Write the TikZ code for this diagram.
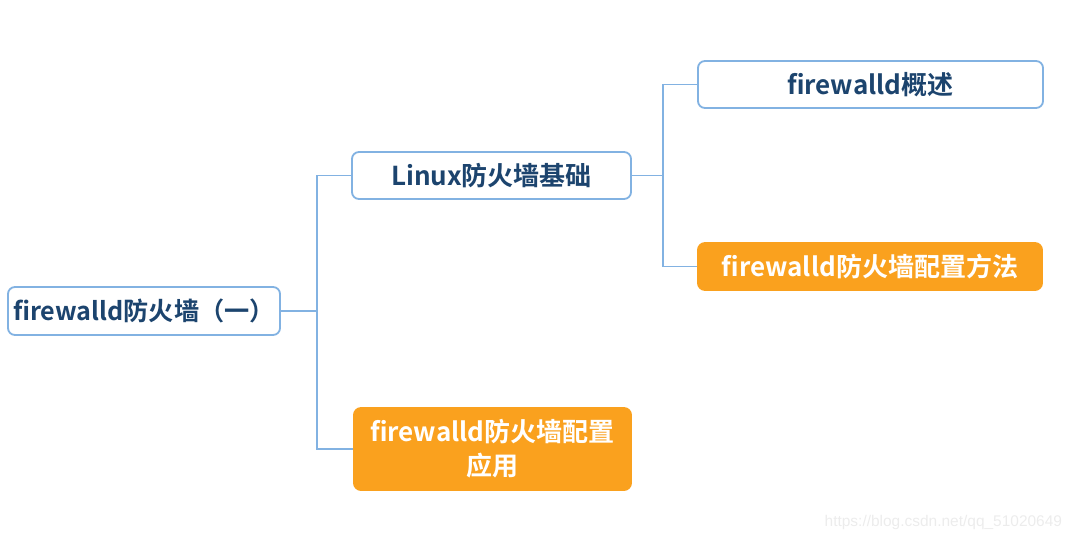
\documentclass[tikz,border=0pt]{standalone}
\usepackage{fontspec}
\setmainfont{Noto Sans CJK SC}[BoldFont={Noto Sans CJK SC Bold}]
\setsansfont{Liberation Sans}
\usetikzlibrary{positioning}

\definecolor{lineblue}{RGB}{130,178,226}
\definecolor{textblue}{RGB}{28,68,110}
\definecolor{boxorange}{RGB}{250,161,30}
\definecolor{markgray}{RGB}{236,236,236}

\tikzset{
	topic/.style={draw=lineblue, line width=1.3pt, rounded corners=5pt, fill=white,
		text=textblue, font=\fontsize{18.5}{22}\selectfont\bfseries, align=center, inner sep=0pt},
	marked/.style={topic, draw=boxorange, fill=boxorange, text=white},
	branch/.style={draw=lineblue, line width=1.1pt}
}

\begin{document}
\begin{tikzpicture}[x=0.025cm, y=-0.025cm]
\useasboundingbox (0,0) rectangle (1077,542);

% root
\node[topic, font=\fontsize{17.9}{22}\selectfont\bfseries, minimum width=6.8cm, minimum height=1.2cm] (root) at (144,311) {firewalld防火墙（一）};

% first level
\node[topic, minimum width=6.975cm, minimum height=1.175cm] (basics) at (491.5,175.5) {Linux防火墙基础};
\node[marked, minimum width=6.925cm, minimum height=2.05cm] (apply) at (492.5,449) {firewalld防火墙配置\\[2pt]应用};

% second level
\node[topic, minimum width=8.625cm, minimum height=1.175cm] (intro) at (870.5,84.5) {firewalld概述};
\node[marked, minimum width=8.6cm, minimum height=1.175cm] (method) at (870,266.5) {firewalld防火墙配置方法};

% junctions
\coordinate (jroot) at (317,311);
\coordinate (jbasics) at (663,175.5);

% links
\draw[branch] (root) -- (jroot);
\draw[branch] (jroot) |- (basics);
\draw[branch] (jroot) |- (apply);
\draw[branch] (basics) -- (jbasics);
\draw[branch] (jbasics) |- (intro);
\draw[branch] (jbasics) |- (method);

% watermark
\node[text=markgray, font=\sffamily\fontsize{11}{13}\selectfont, anchor=east] (mark) at (1067,522) {https://blog.csdn.net/qq\_51020649};

\end{tikzpicture}
\end{document}
